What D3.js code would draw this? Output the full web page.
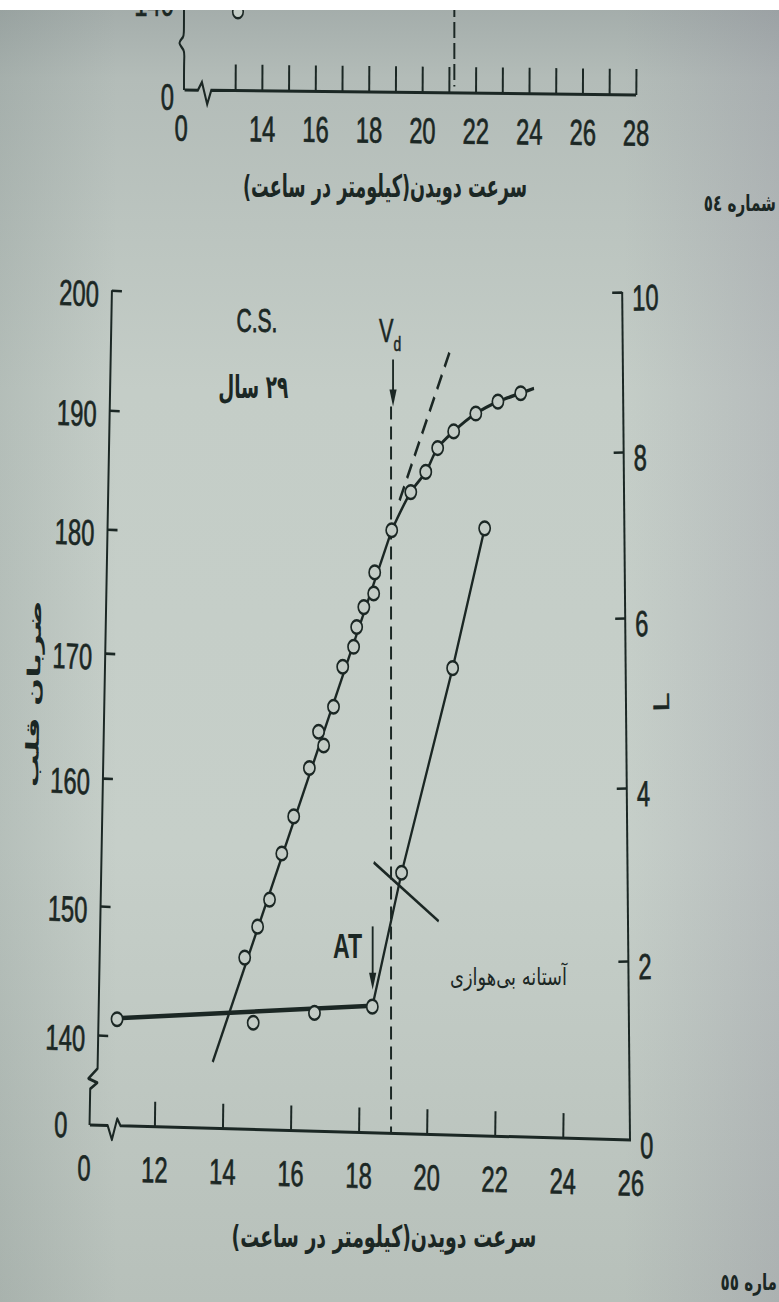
<!DOCTYPE html>
<html><head><meta charset="utf-8">
<script src="https://cdn.jsdelivr.net/npm/d3@7/dist/d3.min.js"></script>
<style>html,body{margin:0;padding:0;background:#fff}svg{display:block}</style>
</head><body>
<svg id="chart" width="779" height="1302" xmlns="http://www.w3.org/2000/svg"></svg>
<script>
// ================= DATA =================
const xTicks   = [12, 14, 16, 18, 20, 22, 24, 26];
const hrTicks  = [140, 150, 160, 170, 180, 190, 200];
const lacTicks = [0, 2, 4, 6, 8, 10];
const topXTicks  = [13,14,15,16,17,18,19,20,21,22,23,24,25,26,27,28];
const xBrokenZero = 9.93;     // where the "0" of the broken speed axis sits
const hrBrokenZero = 132.9;   // where the "0" of the broken heart-rate axis sits
const topBrokenZero = 10.97;

// heart rate (beats/min) vs running speed (km/h)
const hrSpeed = [14.65,15.03,15.38,15.74,16.09,16.55,16.82,16.97,17.26,17.53,17.85,17.94,18.15,18.44,18.47,18.97,19.53,19.97,20.32,20.79,21.44,22.09,22.76];
const hrValue = [146.0,148.4,150.5,154.1,157.0,160.8,163.7,162.6,165.7,168.9,170.5,172.1,173.7,174.8,176.5,179.9,183.1,184.8,186.8,188.2,189.7,190.7,191.4];
const hrFitSpeed = [13.71, 18.97];
const hrFitValue = [137.9, 179.9];
const hrCurveEnd = [23.15, 191.8];
const hrExtSpeed = [19.2, 20.68];
const hrExtValue = [182.4, 194.9];

// lactate (L) vs running speed
const lacSpeed = [10.9, 14.9, 16.7, 18.4, 19.26, 20.76, 21.7];
const lacValue = [1.35, 1.31, 1.42, 1.49, 3.02, 5.41, 7.08];
const lacBaseSpeed = [10.9, 18.4];
const lacBaseValue = [1.36, 1.50];
const atCrossSpeed = [18.44, 20.35];
const atCrossValue = [3.14, 2.46];

// annotations
const vdSpeed = 18.95, vdArrowHR = [194.2, 190.3], vdLabelHR = 195.7;
const atSpeed = 18.41, atArrowLac = [2.40, 1.68], atLabelSpeed = 18.1, atLabelLac = 2.03;

// previous (cut-off) figure at top
const topPointSpeed = [13.1];
const topPointHR = [139.4];
const topDashSpeed = 21.2;

// texts
const xTitle = "سرعت دویدن(کیلومتر در ساعت)";
const yLeftTitle = "ضربان قلب";
const yRightTitle = "L";
const subjectName = "C.S.";
const subjectAge = "۲۹ سال";
const atText = "آستانه بی‌هوازی";
const prevFig = "شماره ٥٤";
const thisFigVisible = "ماره ٥٥";   // the page edge cuts the first letter

// ================= DRAWING =================
const SX = 0.66;                 // horizontal squeeze of the photographed page
const X = px => px / SX;
const INK = "#1b2724";
const BG = "#c3ccc6";
const LATIN = "'Liberation Sans', Arial, sans-serif";
const FARSI = "'DejaVu Sans', sans-serif";

const svg = d3.select("#chart");
const defs = svg.append("defs");
const gv = defs.append("linearGradient").attr("id","bgv").attr("x1",0).attr("y1",0).attr("x2",0).attr("y2",1);
[[0,"#a2aba9"],[0.06,"#b3bcb8"],[0.3,"#c4cdc7"],[0.65,"#c6cfc9"],[1,"#b7c0ba"]].forEach(s=>gv.append("stop").attr("offset",s[0]).attr("stop-color",s[1]));
const gh = defs.append("linearGradient").attr("id","bgh").attr("x1",0).attr("y1",0).attr("x2",1).attr("y2",0);
[[0,"rgba(80,95,95,0.14)"],[0.15,"rgba(80,95,95,0)"],[0.8,"rgba(110,100,130,0)"],[1,"rgba(110,100,130,0.16)"]].forEach(s=>gh.append("stop").attr("offset",s[0]).attr("stop-color",s[1]));
svg.append("rect").attr("width",779).attr("height",1302).attr("fill","url(#bgv)");
svg.append("rect").attr("width",779).attr("height",1302).attr("fill","url(#bgh)");

const root = svg.append("g").attr("transform",`scale(${SX},1)`);

// scales
const x   = d3.scaleLinear().domain([12, 26]).range([X(154.5), X(631)]);
const yHR = d3.scaleLinear().domain(hrTicks).range([1035, 906, 778, 653, 529, 410, 290]);
const yL  = d3.scaleLinear().domain(lacTicks).range([1140, 961, 788, 618, 452, 292]);
const xT  = d3.scaleLinear().domain([14, 28]).range([X(262), X(636)]);
const yT  = d3.scaleLinear().domain([140, 150]).range([4, -125]);

function styleAxis(g, size){
  g.attr("color", INK).attr("font-family", LATIN).attr("font-size", size || 36);
  g.select(".domain").remove();
  g.selectAll(".tick line").attr("stroke-width", 2.6);
  g.selectAll(".tick text").attr("stroke", INK).attr("stroke-width", 0.7);
}

// ---------- top (previous figure) ----------
const gTX = root.append("g").attr("transform", `translate(0,95) rotate(0.42,${xT(28)},0)`);
gTX.call(d3.axisBottom(xT).tickValues([topBrokenZero].concat(topXTicks)).tickSizeInner(-26).tickSizeOuter(0).tickPadding(25)
  .tickFormat(d => d === topBrokenZero ? "0" : (d % 2 === 0 ? d : "")));
styleAxis(gTX);
gTX.selectAll(".tick").filter(d => d === topBrokenZero).select("line").remove();
gTX.selectAll(".tick line").attr("stroke-width", 3);
gTX.append("path").attr("fill","none").attr("stroke",INK).attr("stroke-width",3)
  .attr("d", d3.line()([[xT(11.1),0],[xT(11.6),0],[xT(11.75),-8],[xT(11.95),14],[xT(12.1),0],[xT(28),0]]));

const gTY = root.append("g").attr("transform", `translate(${X(184)},0)`);
gTY.call(d3.axisLeft(yT).tickValues([hrBrokenZero - 0.2, 140]).tickSizeInner(-X(10)).tickSizeOuter(0).tickPadding(X(10))
  .tickFormat(d => d < 140 ? "0" : d));
styleAxis(gTY);
gTY.selectAll(".tick").filter(d => d < 140).select("line").remove();
gTY.append("path").attr("fill","none").attr("stroke",INK).attr("stroke-width",3)
  .attr("d", d3.line().curve(d3.curveBasis)([[0,yT(150)],[0,yT(137.75)],[0,yT(137.44)],[X(-7),yT(136.98)],[X(1),yT(136.43)],[0,yT(135.89)],[0,yT(133.33)]]));

root.append("line").attr("x1", xT(topDashSpeed)).attr("x2", xT(topDashSpeed)).attr("y1", yT(150)).attr("y2", yT(133.6))
  .attr("stroke", INK).attr("stroke-width", 3).attr("stroke-dasharray", "16,5");
root.selectAll(".topPt").data(d3.zip(topPointSpeed, topPointHR)).join("ellipse").attr("class","topPt")
  .attr("cx", d => xT(d[0])).attr("cy", d => yT(d[1])).attr("rx", 8).attr("ry", 6.5)
  .attr("fill", BG).attr("stroke", INK).attr("stroke-width", 2.4);

root.append("text").attr("x", X(385)).attr("y", 197).attr("text-anchor","middle").attr("direction","rtl")
  .attr("font-family", FARSI).attr("font-weight","bold").attr("font-size", 31).attr("fill", INK)
  .attr("textLength", X(284)).attr("lengthAdjust","spacingAndGlyphs").text(xTitle);
root.append("text").attr("x", X(776)).attr("y", 211).attr("text-anchor","start").attr("direction","rtl")
  .attr("font-family", FARSI).attr("font-weight","bold").attr("font-size", 23).attr("fill", INK).text(prevFig);

// ---------- main chart axes ----------
// left (heart rate)
const gL = root.append("g").attr("transform", `translate(${X(97)},0) rotate(1.6,0,1100)`);
gL.call(d3.axisLeft(yHR).tickValues([hrBrokenZero].concat(hrTicks)).tickSizeInner(-X(10)).tickSizeOuter(0).tickPadding(X(13))
  .tickFormat(d => d < 140 ? "0" : d));
styleAxis(gL);
gL.selectAll(".tick text").attr("dy","0.45em");
const zL = gL.selectAll(".tick").filter(d => d < 140);
zL.select("line").remove();
zL.select("text").attr("x", -X(29)).attr("dy","0.32em");
gL.append("path").attr("fill","none").attr("stroke",INK).attr("stroke-width",3).attr("stroke-linejoin","round")
  .attr("d", d3.line()([[0,yHR(200)],[0,yHR(137.4)],[X(-9),yHR(136.6)],[0,yHR(136.3)],[X(-7),yHR(135.8)],[X(-7),yHR(133.0)]]));
gL.append("text").attr("transform", `translate(${X(-71)},${yHR(166.5)}) rotate(-90)`)
  .attr("text-anchor","middle").attr("dy","0.35em").attr("direction","rtl")
  .attr("font-family", FARSI).attr("font-weight","bold").attr("font-size", 27).attr("fill", INK)
  .attr("textLength", 187).attr("lengthAdjust","spacingAndGlyphs").text(yLeftTitle);

// right (lactate)
const gR = root.append("g").attr("transform", `translate(${X(630)},0) rotate(-0.8,0,1140)`);
gR.call(d3.axisRight(yL).tickValues(lacTicks).tickSizeInner(-X(10)).tickSizeOuter(0).tickPadding(X(10)));
styleAxis(gR);
gR.selectAll(".tick text").attr("dy","0.5em");
gR.selectAll(".tick").filter(d => d === 0).select("line").remove();
gR.append("line").attr("x1",0).attr("x2",0).attr("y1",yL(10)).attr("y2",yL(0)).attr("stroke",INK).attr("stroke-width",3);
gR.append("text").attr("transform", `translate(${X(43)},${yL(5.0)}) rotate(-90)`)
  .attr("text-anchor","middle").attr("font-family", LATIN).attr("font-size", 34).attr("fill", INK)
  .attr("stroke", INK).attr("stroke-width", 0.7).text(yRightTitle);

// bottom (speed)
const gX = root.append("g").attr("transform", `translate(0,1140) rotate(1.05,${x(26)},0)`);
gX.call(d3.axisBottom(x).tickValues([xBrokenZero].concat(xTicks)).tickSizeInner(-25).tickSizeOuter(0).tickPadding(30)
  .tickFormat(d => d === xBrokenZero ? "0" : d));
styleAxis(gX);
gX.selectAll(".tick").filter(d => d === xBrokenZero || d === 26).select("line").remove();
gX.selectAll(".tick line").attr("stroke-width", 3);
gX.append("path").attr("fill","none").attr("stroke",INK).attr("stroke-width",3).attr("stroke-linejoin","round")
  .attr("d", d3.line()([[x(10.1),0],[x(10.62),0],[x(10.75),14],[x(10.9),-7],[x(11.0),0],[x(26),0]]));
root.append("text").attr("x", X(384)).attr("y", 1247).attr("text-anchor","middle").attr("direction","rtl")
  .attr("font-family", FARSI).attr("font-weight","bold").attr("font-size", 30).attr("fill", INK)
  .attr("textLength", X(305)).attr("lengthAdjust","spacingAndGlyphs").text(xTitle);
root.append("text").attr("x", X(777)).attr("y", 1290).attr("text-anchor","start").attr("direction","rtl")
  .attr("font-family", FARSI).attr("font-weight","bold").attr("font-size", 23).attr("fill", INK).text(thisFigVisible);

// ---------- reference lines ----------
root.append("line").attr("x1", x(vdSpeed)).attr("x2", x(vdSpeed)).attr("y1", yHR(vdArrowHR[1])).attr("y2", yHR(132.4))
  .attr("stroke", INK).attr("stroke-width", 3).attr("stroke-dasharray", "13,7");

// ---------- lines ----------
const lnHR = d3.line().x(d => x(d[0])).y(d => yHR(d[1]));
const lnL  = d3.line().x(d => x(d[0])).y(d => yL(d[1]));

root.append("path").attr("fill","none").attr("stroke",INK).attr("stroke-width",3.4)
  .attr("d", lnHR(d3.zip(hrFitSpeed, hrFitValue)));
root.append("path").attr("fill","none").attr("stroke",INK).attr("stroke-width",3.4)
  .attr("d", lnHR.curve(d3.curveCatmullRom.alpha(0.5))(d3.zip(hrSpeed, hrValue).slice(15).concat([hrCurveEnd])));
lnHR.curve(d3.curveLinear);
root.append("path").attr("fill","none").attr("stroke",INK).attr("stroke-width",3.6).attr("stroke-dasharray","16,9")
  .attr("d", lnHR(d3.zip(hrExtSpeed, hrExtValue)));

root.append("path").attr("fill","none").attr("stroke",INK).attr("stroke-width",4.6)
  .attr("d", lnL(d3.zip(lacBaseSpeed, lacBaseValue)));
root.append("path").attr("fill","none").attr("stroke",INK).attr("stroke-width",3.4)
  .attr("d", lnL(d3.zip(lacSpeed, lacValue).slice(3)));
root.append("path").attr("fill","none").attr("stroke",INK).attr("stroke-width",3)
  .attr("d", lnL(d3.zip(atCrossSpeed, atCrossValue)));

// ---------- points ----------
root.selectAll(".hr").data(d3.zip(hrSpeed, hrValue)).join("ellipse").attr("class","hr")
  .attr("cx", d => x(d[0])).attr("cy", d => yHR(d[1])).attr("rx", 8.5).attr("ry", 6.8)
  .attr("fill", BG).attr("stroke", INK).attr("stroke-width", 2.5);
root.selectAll(".lac").data(d3.zip(lacSpeed, lacValue)).join("ellipse").attr("class","lac")
  .attr("cx", d => x(d[0])).attr("cy", d => yL(d[1])).attr("rx", 8.5).attr("ry", 6.8)
  .attr("fill", BG).attr("stroke", INK).attr("stroke-width", 2.5);

// ---------- arrows & labels ----------
function arrow(px, y1, y2){
  root.append("line").attr("x1",px).attr("x2",px).attr("y1",y1).attr("y2",y2-10).attr("stroke",INK).attr("stroke-width",2.8);
  root.append("path").attr("fill",INK)
    .attr("d", d3.line()([[px - X(3.6), y2 - 17],[px + X(3.6), y2 - 17],[px, y2]]) + "Z");
}
arrow(x(vdSpeed) + X(2), yHR(vdArrowHR[0]), yHR(vdArrowHR[1]));
arrow(x(atSpeed), yL(atArrowLac[0]), yL(atArrowLac[1]));

const vt = root.append("text").attr("x", x(vdSpeed) - X(1)).attr("y", yHR(vdLabelHR)).attr("text-anchor","middle")
  .attr("font-family", LATIN).attr("font-size", 33).attr("fill", INK).attr("stroke", INK).attr("stroke-width", 0.6);
vt.append("tspan").text("V");
vt.append("tspan").attr("dy", 9).attr("font-size", 21).text("d");

root.append("text").attr("x", x(atLabelSpeed)).attr("y", yL(atLabelLac)).attr("text-anchor","end")
  .attr("font-family", LATIN).attr("font-weight","bold").attr("font-size", 35).attr("fill", INK).text("AT");

root.append("text").attr("x", x(15.01)).attr("y", yHR(196.5)).attr("text-anchor","middle")
  .attr("font-family", LATIN).attr("font-size", 34).attr("fill", INK).attr("stroke", INK).attr("stroke-width", 0.8)
  .attr("textLength", X(41)).attr("lengthAdjust","spacingAndGlyphs").text(subjectName);
root.append("text").attr("x", x(14.9)).attr("y", yHR(191.0)).attr("text-anchor","middle").attr("direction","rtl")
  .attr("font-family", FARSI).attr("font-weight","bold").attr("font-size", 32).attr("fill", INK)
  .attr("textLength", X(70)).attr("lengthAdjust","spacingAndGlyphs").text(subjectAge);
root.append("text").attr("x", x(22.4)).attr("y", yL(1.73)).attr("text-anchor","middle").attr("direction","rtl")
  .attr("font-family", FARSI).attr("font-size", 24).attr("fill", INK)
  .attr("textLength", X(117)).attr("lengthAdjust","spacingAndGlyphs").text(atText);

// white margin of the photo
svg.append("rect").attr("width", 779).attr("height", 10).attr("fill", "#ffffff");
</script>
</body></html>
